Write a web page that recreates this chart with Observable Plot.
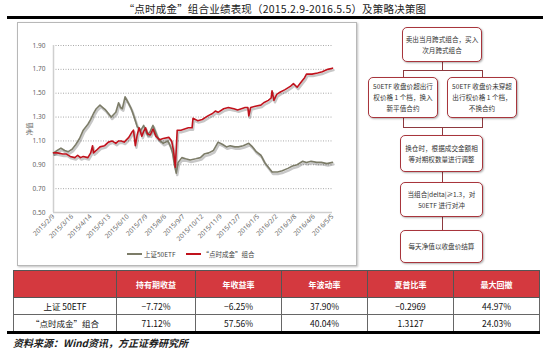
<!DOCTYPE html>
<html><head><meta charset="utf-8">
<script src="https://cdn.jsdelivr.net/npm/d3@7"></script>
<script src="https://cdn.jsdelivr.net/npm/@observablehq/plot@0.6"></script>
<style>
body{margin:0;background:#fff;font-family:"Noto Sans CJK SC","Noto Sans",sans-serif;}
#page{position:relative;width:550px;height:355px;overflow:hidden;background:#fff;}
.abs{position:absolute;}
#title{left:0;width:550px;top:2px;text-align:center;font-size:10.5px;color:#222;line-height:14px;letter-spacing:0.2px;}
.hline{background:#000;}
#chartbox{left:17px;top:22px;width:338px;height:242px;border:1px solid #b8b8b8;box-shadow:1px 1px 2px rgba(0,0,0,0.25);}
#chart{left:17px;top:22px;}
#legend{top:249px;left:127px;font-size:6.5px;color:#444;white-space:nowrap;display:flex;align-items:center;}
.sw{display:inline-block;width:15px;height:1.6px;margin-right:2px;}
.box{position:absolute;border:1.8px solid #a8353c;border-radius:5px;background:#fff;box-shadow:1px 1px 2px rgba(0,0,0,0.3);
 display:flex;flex-direction:column;justify-content:center;align-items:center;font-size:6.6px;line-height:11px;color:#333;box-sizing:border-box;text-align:center;}
.con{position:absolute;background:#8e3a3f;}
table{position:absolute;left:13px;top:270px;border-collapse:collapse;font-size:8.5px;color:#111;}
td,th{text-align:center;padding:0;border:1px solid #555;}
th{background:#d4393f;color:#fff;font-weight:bold;height:26px;font-size:8px;}
td{height:16px;border-color:#666;}
#src{left:13px;top:335px;font-size:10px;font-style:italic;color:#222;font-weight:bold;}
</style></head><body><div id="page">
<div id="title" class="abs">“点时成金”组合业绩表现（2015.2.9-2016.5.5）及策略决策图</div>
<div class="abs hline" style="left:7px;top:16px;width:536px;height:2.5px;"></div>
<div id="chartbox" class="abs"></div>
<div id="chart" class="abs"></div>
<div id="legend" class="abs"></div>
<div id="flow"></div>
<div id="tablewrap"></div>
<div class="abs hline" style="left:7px;top:331px;width:533px;height:2.5px;"></div>
<div id="src" class="abs">资料来源：Wind资讯，方正证券研究所</div>
</div>
<script>
// ---- data ----
const tickLabels = ["2015/2/9","2015/3/16","2015/4/14","2015/5/13","2015/6/10","2015/7/9","2015/8/6","2015/9/7","2015/10/12","2015/11/9","2015/12/7","2016/1/5","2016/2/2","2016/3/8","2016/4/6","2016/5/5"];
const yTicks = [0.5,0.7,0.9,1.1,1.3,1.5,1.7,1.9];
const seriesNames = ["上证50ETF","“点时成金”组合"];
// trading-day index since 2015/2/9 and net value
const etfDay = [0,4,8,12,16,20,24,28,32,37,40,43,46,50,53,56,59,62,67,70,72,74,77,81,83,85,88,90,94,97,101,104,107,112,115,118,123,126,128,130,132,134,138,142,147,153,158,162,167,172,177,182,186,190,195,199,204,210,214,218,223,227,231,235,241,246,252,257,262,268,272,277,283,288,294,300];
const etfNav = [1.00,1.02,1.04,1.02,1.01,1.03,1.07,1.12,1.19,1.24,1.28,1.33,1.37,1.40,1.38,1.36,1.33,1.30,1.34,1.42,1.38,1.37,1.47,1.41,1.38,1.34,1.27,1.22,1.19,1.23,1.15,1.18,1.23,1.13,1.10,1.08,1.10,1.05,1.00,0.90,0.83,0.92,0.96,0.95,0.94,0.95,0.96,0.99,1.00,1.02,1.09,1.07,1.05,1.06,1.05,1.05,1.06,1.08,1.05,1.01,0.98,0.92,0.88,0.84,0.84,0.85,0.87,0.89,0.90,0.93,0.92,0.93,0.92,0.92,0.91,0.92];
const dsDay = [0,4,10,14,18,23,26,29,32,37,40,42,43,46,50,55,59,63,67,70,73,76,81,84,86,88,90,92,95,97,99,101,104,107,110,114,118,124,127,129,131,133,137,141,145,149,150,155,160,166,171,174,177,183,188,194,198,202,206,209,210,212,217,223,226,231,234,235,237,240,244,249,255,258,262,267,270,272,278,284,289,295,300];
const dsNav = [1.00,1.00,0.99,0.99,0.97,0.96,0.98,0.96,0.97,0.96,1.00,1.06,1.00,1.02,1.05,1.06,1.09,1.10,1.08,1.10,1.10,1.09,1.13,1.17,1.19,1.06,1.15,1.21,1.14,1.18,1.21,1.16,1.15,1.20,1.14,1.11,1.12,1.13,1.10,1.02,0.88,1.19,1.19,1.20,1.21,1.21,1.29,1.27,1.28,1.31,1.33,1.35,1.34,1.37,1.38,1.37,1.36,1.37,1.38,1.38,1.31,1.38,1.39,1.40,1.42,1.44,1.46,1.52,1.44,1.49,1.51,1.53,1.56,1.58,1.55,1.60,1.63,1.66,1.66,1.67,1.68,1.70,1.71];
const colors = ["#7c7c68","#c0121c"];

const tableHead = ["","持有期收益","年收益率","年波动率","夏普比率","最大回撤"];
const tableRows = [
  ["上证 50ETF","−7.72%","−6.25%","37.90%","−0.2969","44.97%"],
  ["“点时成金”组合","71.12%","57.56%","40.04%","1.3127","24.03%"]
];
const colWidths = [102,78,85,85,85,85];

const flowTexts = [
  ["卖出当月跨式组合，买入","次月跨式组合"],
  ["50ETF 收盘价超出行","权价格 1 个档，换入","新平值合约"],
  ["50ETF 收盘价未穿超","出行权价格 1 个档，","不换合约"],
  ["换仓时，根据成交金额相","等对期权数量进行调整"],
  ["当组合|delta|≥1.3，对","50ETF 进行对冲"],
  ["每天净值以收盘价结算"]
];

// ---- chart ----
const etf = etfDay.map((d,i)=>({day:d, nav:etfNav[i]}));
const ds = dsDay.map((d,i)=>({day:d, nav:dsNav[i]}));
const tickDays = tickLabels.map((_,i)=>i*20);

const chart = Plot.plot({
  width: 338, height: 223,
  marginLeft: 36, marginRight: 23, marginTop: 23, marginBottom: 33,
  x: {domain:[0,300]},
  y: {domain:[0.5,1.9]},
  style: {fontFamily:'"Noto Sans","Noto Sans CJK SC",sans-serif', fontSize:"6.5px", color:"#666", background:"transparent", overflow:"visible"},
  marks: [
    Plot.gridY(yTicks.slice(1), {stroke:"#777", strokeOpacity:0.8, strokeDasharray:"1,1.5", strokeWidth:0.8}),
    Plot.ruleY([0.5], {stroke:"#cfcfcf", strokeWidth:1.5}),
    Plot.ruleX([0], {stroke:"#cfcfcf", strokeWidth:1.5}),
    Plot.axisY({ticks:yTicks, tickFormat:d=>d.toFixed(2), tickSize:0, tickPadding:8, label:"净值", labelAnchor:"center", labelOffset:26, labelArrow:"none"}),
    Plot.axisX({ticks:tickDays, tickFormat:i=>tickLabels[i/20], tickRotate:-45, tickSize:0, tickPadding:3, label:null}),
    Plot.line(etf, {x:"day", y:"nav", stroke:"#000", strokeOpacity:0.22, strokeWidth:2.4, dx:1, dy:2}),
    Plot.line(ds, {x:"day", y:"nav", stroke:"#000", strokeOpacity:0.22, strokeWidth:2.4, dx:1, dy:2}),
    Plot.line(etf, {x:"day", y:"nav", stroke:colors[0], strokeWidth:1.6}),
    Plot.line(ds, {x:"day", y:"nav", stroke:colors[1], strokeWidth:1.6})
  ]
});
document.getElementById("chart").appendChild(chart);

// legend
const lg = document.getElementById("legend");
seriesNames.forEach((n,i)=>{
  const s=document.createElement("span"); s.className="sw"; s.style.background=colors[i];
  const t=document.createElement("span"); t.textContent=n; t.style.marginRight= i===0?"10px":"0";
  lg.appendChild(s); lg.appendChild(t);
});

// ---- flowchart ----
const boxGeo = [[402,27,80,35],[368,77,70,41],[447,77,70,41],[400,135,83,37],[400,182,83,35],[400,230,83,33]];
const flow = document.getElementById("flow");
flowTexts.forEach((lines,i)=>{
  const [l,t,w,h]=boxGeo[i];
  const b=document.createElement("div"); b.className="box";
  Object.assign(b.style,{left:l+"px",top:t+"px",width:w+"px",height:h+"px"});
  lines.forEach(s=>{const d=document.createElement("div"); d.textContent=s; b.appendChild(d);});
  flow.appendChild(b);
});
const cons = [[441.5,62,1.2,8],[403,70,80,1.2],[403,70,1.2,7],[482,70,1.2,7],[403,118,1.2,9],[482,118,1.2,9],[403,127,80,1.2],[441.5,127,1.2,8],[441.5,172,1.2,10],[441.5,217,1.2,13]];
cons.forEach(([l,t,w,h])=>{const c=document.createElement("div"); c.className="con"; Object.assign(c.style,{left:l+"px",top:t+"px",width:w+"px",height:h+"px"}); flow.insertBefore(c, flow.firstChild);});

// ---- table ----
const tbl=document.createElement("table");
const hr=document.createElement("tr");
tableHead.forEach((h,i)=>{const th=document.createElement("th"); th.textContent=h; th.style.width=colWidths[i]+"px"; hr.appendChild(th);});
tbl.appendChild(hr);
tableRows.forEach(r=>{const tr=document.createElement("tr"); r.forEach(c=>{const td=document.createElement("td"); td.textContent=c; tr.appendChild(td);}); tbl.appendChild(tr);});
document.getElementById("tablewrap").appendChild(tbl);
</script>
</body></html>
